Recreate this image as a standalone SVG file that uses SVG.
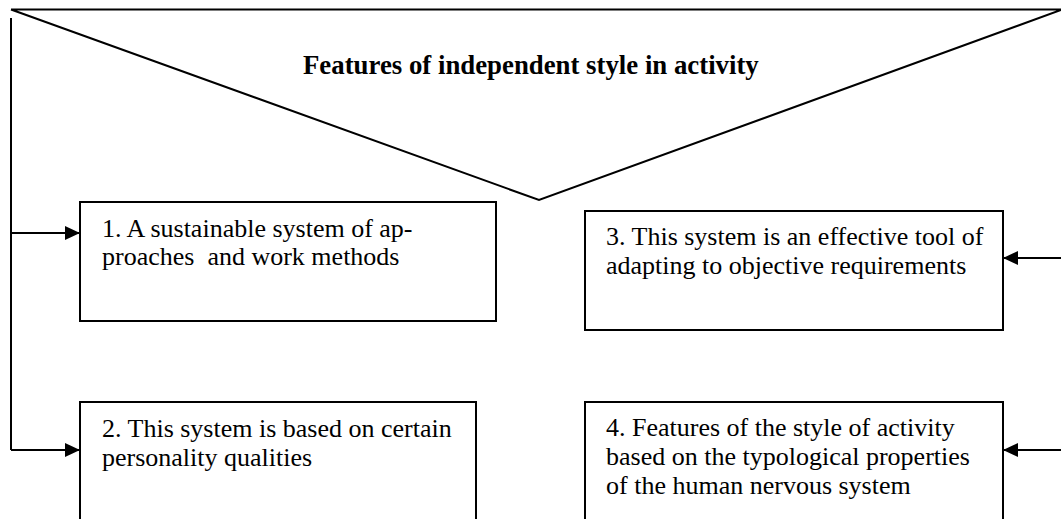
<svg xmlns="http://www.w3.org/2000/svg" width="1061" height="519" viewBox="0 0 1061 519">
<style>
.ln{fill:none;stroke:#000;stroke-width:2}
.box{fill:#fff;stroke:#000;stroke-width:2}
.t{font-family:"Liberation Serif",serif;font-size:26px;fill:#000}
.h{font-family:"Liberation Serif",serif;font-size:26.8px;font-weight:bold;fill:#000}
</style>
<defs>
<marker id="ah" markerWidth="15" markerHeight="14" refX="15" refY="7" orient="auto" markerUnits="userSpaceOnUse">
<path d="M0,0 L15,7 L0,14 Z" fill="#000"/>
</marker>
</defs>
<g id="header">
<path class="ln" d="M11,9.5 L1061,9.5 M11,9.5 L539,200 L1061,10"/>
<text class="h" x="303" y="74">Features of independent style in activity</text>
</g>
<g id="connectors">
<path class="ln" d="M11,18 L11,450"/>
<path class="ln" d="M11,233 L80,233" marker-end="url(#ah)"/>
<path class="ln" d="M11,450 L80,450" marker-end="url(#ah)"/>
<path class="ln" d="M1061,258 L1003,258" marker-end="url(#ah)"/>
<path class="ln" d="M1061,450 L1003,450" marker-end="url(#ah)"/>
</g>
<g id="box1">
<rect class="box" x="80" y="202" width="416" height="119"/>
<text class="t" x="102" y="237">1. A sustainable system of ap-</text>
<text class="t" x="102" y="265" xml:space="preserve">proaches  and work methods</text>
</g>
<g id="box2">
<rect class="box" x="80" y="402" width="396" height="130"/>
<text class="t" x="102" y="437">2. This system is based on certain</text>
<text class="t" x="102" y="466">personality qualities</text>
</g>
<g id="box3">
<rect class="box" x="585" y="211" width="418" height="119"/>
<text class="t" x="606" y="245">3. This system is an effective tool of</text>
<text class="t" x="606" y="274">adapting to objective requirements</text>
</g>
<g id="box4">
<rect class="box" x="585" y="402" width="418" height="130"/>
<text class="t" x="606" y="436">4. Features of the style of activity</text>
<text class="t" x="606" y="465">based on the typological properties</text>
<text class="t" x="606" y="494">of the human nervous system</text>
</g>
</svg>
